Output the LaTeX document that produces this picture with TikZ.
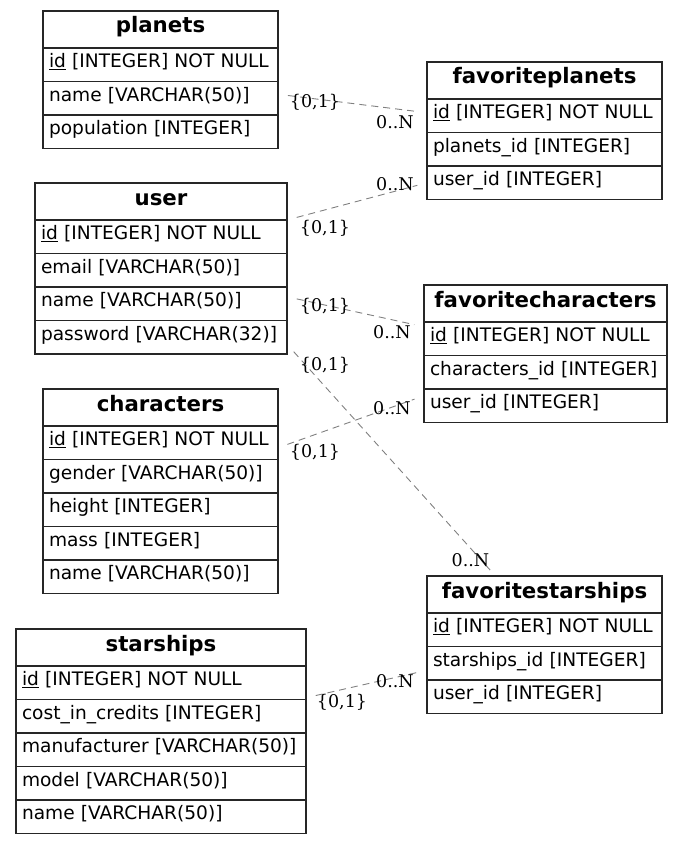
\documentclass[tikz,border=0pt]{standalone}
\usepackage{fontspec}
\setmainfont{DejaVu Sans}
\newfontfamily\lblfont{DejaVu Serif}
\usetikzlibrary{positioning}
\tikzset{
  tbltitle/.style={draw=black!85, line width=1.25pt, outer sep=0pt, minimum height=37pt, inner sep=0pt,
    text height=15pt, text depth=8pt, font=\fontsize{21.3}{24}\selectfont\bfseries},
  tblrow/.style={draw=black!85, line width=1.25pt, outer sep=0pt, minimum height=33.5pt, inner xsep=6pt, inner ysep=0pt,
    align=left, text height=14pt, text depth=8pt, font=\fontsize{18.6}{22}\selectfont},
}
% #1 node name, #2 top left corner, #3 width, #4 title, #5 fields
\newcommand{\erdtable}[5]{%
  \node[tbltitle, minimum width=#3pt, anchor=north west] (#1) at #2 {#4};
  \xdef\prevrow{#1}%
  \pgfmathsetmacro{\rowwd}{#3-12}%
  \foreach \fld [count=\i] in {#5} {
    \node[tblrow, text width=\rowwd pt, below=0pt of \prevrow] (#1-\i) {\fld};
    \xdef\prevrow{#1-\i}
  }
}

\begin{document}
\begin{tikzpicture}
      [
      x=1pt, y=-1pt,
      rel/.style={draw=gray, line width=0.9pt, dash pattern=on 7pt off 5pt, shorten <=10pt, shorten >=10pt},
      lbl/.style={font=\lblfont\fontsize{17.5}{20}\selectfont, inner sep=0pt},
      ]
      \useasboundingbox (0,0) rectangle (681,843);
      % tables
      \erdtable{planets}{(43,11)}{235}{planets}{{\underline{id} [INTEGER] NOT NULL}, {name [VARCHAR(50)]}, {population [INTEGER]}}
      \erdtable{user}{(35,183)}{252}{user}{{\underline{id} [INTEGER] NOT NULL}, {email [VARCHAR(50)]}, {name [VARCHAR(50)]}, {password [VARCHAR(32)]}}
      \erdtable{characters}{(43,389)}{235}{characters}{{\underline{id} [INTEGER] NOT NULL}, {gender [VARCHAR(50)]}, {height [INTEGER]}, {mass [INTEGER]}, {name [VARCHAR(50)]}}
      \erdtable{starships}{(16,629)}{290}{starships}{{\underline{id} [INTEGER] NOT NULL}, {cost\_in\_credits [INTEGER]}, {manufacturer [VARCHAR(50)]}, {model [VARCHAR(50)]}, {name [VARCHAR(50)]}}
      \erdtable{favoriteplanets}{(427,62)}{235}{favoriteplanets}{{\underline{id} [INTEGER] NOT NULL}, {planets\_id [INTEGER]}, {user\_id [INTEGER]}}
      \erdtable{favoritecharacters}{(424,285)}{243}{favoritecharacters}{{\underline{id} [INTEGER] NOT NULL}, {characters\_id [INTEGER]}, {user\_id [INTEGER]}}
      \erdtable{favoritestarships}{(427,576)}{235}{favoritestarships}{{\underline{id} [INTEGER] NOT NULL}, {starships\_id [INTEGER]}, {user\_id [INTEGER]}}
      % relations
      \draw[rel] ([yshift=4pt]planets-2.east) -- ([yshift=3pt]favoriteplanets-1.west)
        node[lbl, at start, xshift=37pt, yshift=-8pt] {\{0,1\}}
        node[lbl, at end, xshift=-32pt, yshift=-9pt] {0..N};
      \draw[rel] (user-1.north east) -- (favoriteplanets-3.west)
        node[lbl, at start, xshift=38pt, yshift=-8pt] {\{0,1\}}
        node[lbl, at end, xshift=-32pt, yshift=-1.5pt] {0..N};
      \draw[rel] ([yshift=7pt]user-3.east) -- ([yshift=12pt]favoritecharacters-1.west)
        node[lbl, at start, xshift=38pt, yshift=-10pt] {\{0,1\}}
        node[lbl, at end, xshift=-32pt, yshift=-5pt] {0..N};
      \draw[rel, shorten >=8pt] ([yshift=-7pt]user-4.east) -- ([xshift=-49pt]favoritestarships.north)
        node[lbl, at start, xshift=38pt, yshift=-21pt] {\{0,1\}}
        node[lbl, at end, xshift=-25pt, yshift=16pt] {0..N};
      \draw[rel] ([yshift=-5pt]characters-1.east) -- ([yshift=10pt]favoritecharacters-3.west)
        node[lbl, at start, xshift=37pt, yshift=-4.5pt] {\{0,1\}}
        node[lbl, at end, xshift=-32pt, yshift=-12pt] {0..N};
      \draw[rel] ([yshift=-15pt]starships-1.east) -- ([yshift=-7pt]favoritestarships-2.west)
        node[lbl, at start, xshift=36pt, yshift=-4.5pt] {\{0,1\}}
        node[lbl, at end, xshift=-32pt, yshift=-11pt] {0..N};
\end{tikzpicture}
\end{document}
